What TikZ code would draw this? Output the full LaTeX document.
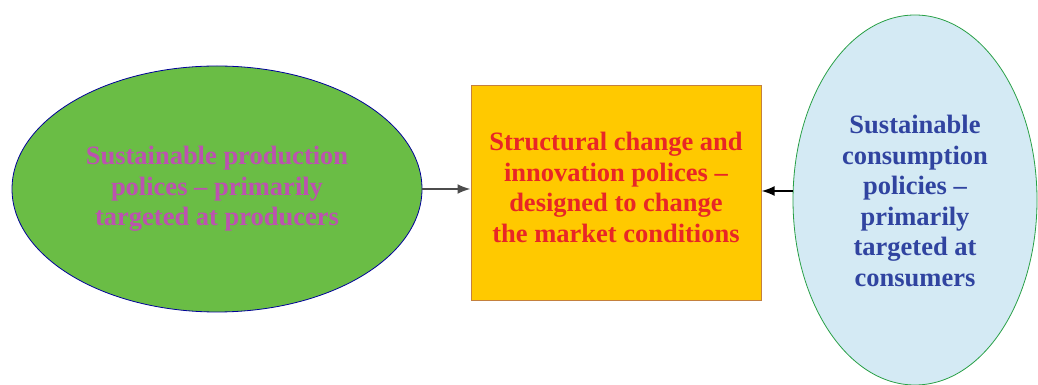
\documentclass[tikz,border=0pt]{standalone}
\usepackage{fontspec}
\setmainfont{Liberation Serif}
\usetikzlibrary{shapes.geometric,arrows.meta}

\definecolor{prodgreen}{RGB}{106,189,69}
\definecolor{prodtext}{RGB}{188,82,176}
\definecolor{boxyellow}{RGB}{255,201,0}
\definecolor{boxedge}{RGB}{196,128,62}
\definecolor{boxtext}{RGB}{232,38,38}
\definecolor{conslight}{RGB}{212,234,244}
\definecolor{consedge}{RGB}{40,160,70}
\definecolor{constext}{RGB}{48,68,160}

\tikzset{
    policytext/.style={align=center, font=\fontsize{26.5}{30.5}\selectfont\bfseries},
    policyarrow/.style={-{Latex[length=13pt,width=10pt]}, line width=2pt}
}

\begin{document}
\begin{tikzpicture}[x=1pt, y=1pt]
    \useasboundingbox (0, 0) rectangle (1038, 385);

    \node[ellipse, draw=blue!60!black, fill=prodgreen, line width=0.8pt,
        minimum width=410, minimum height=246, inner sep=0pt] (prod) at (217, 196) {};
    \node[policytext, text=prodtext] (prodlabel) at (prod.center)
        {Sustainable production\\polices -- primarily\\targeted at producers};

    \node[rectangle, draw=boxedge, fill=boxyellow, line width=1pt,
        minimum width=290, minimum height=215, inner sep=0pt] (change) at (616, 191.5) {};
    \node[policytext, text=boxtext] (changelabel) at (616, 197.5)
        {Structural change and\\innovation polices --\\designed to change\\the market conditions};

    \node[ellipse, draw=consedge, fill=conslight, line width=0.8pt,
        minimum width=244, minimum height=370, inner sep=0pt] (cons) at (915, 185) {};
    \node[policytext, text=constext] (conslabel) at (915, 184)
        {Sustainable\\consumption\\policies --\\primarily\\targeted at\\consumers};

    \draw[policyarrow, black!70] (prod.east) -- (change.west |- prod.east);
    \draw[policyarrow, black] (cons.west |- 0, 194) -- (change.east |- 0, 194);
\end{tikzpicture}
\end{document}
